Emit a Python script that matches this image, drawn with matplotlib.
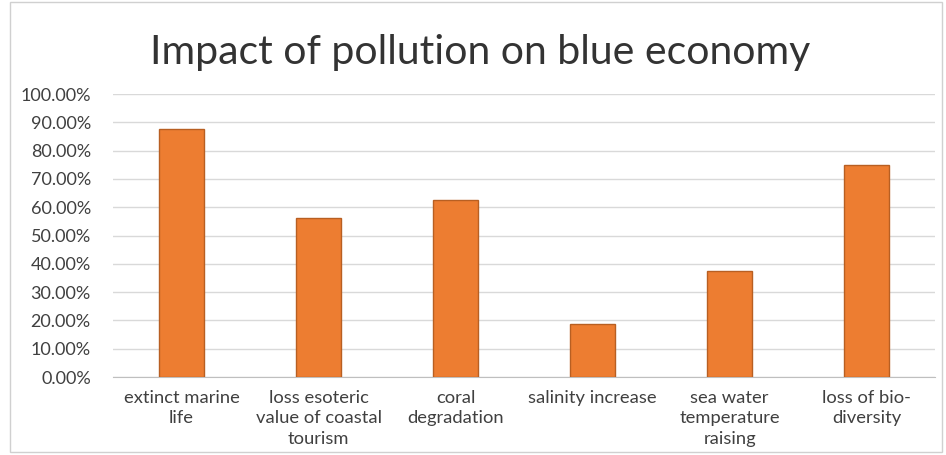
import matplotlib.pyplot as plt
from matplotlib.ticker import FuncFormatter, MultipleLocator
from matplotlib.patches import Rectangle

# data
categories = ['extinct marine\nlife', 'loss esoteric\nvalue of coastal\ntourism', 'coral\ndegradation',
              'salinity increase', 'sea water\ntemperature\nraising', 'loss of bio-\ndiversity']
values = [0.875, 0.5625, 0.625, 0.1875, 0.375, 0.75]

plt.rcParams['font.family'] = ['Lato', 'DejaVu Sans']

fig = plt.figure(figsize=(9.46, 4.55), dpi=100)
ax = fig.add_axes([0.1195, 0.1714, 0.869, 0.622])

x = range(len(categories))
ax.bar(x, values, width=0.33, color='#ED7D31', edgecolor='#B85F22', linewidth=1, zorder=3)

ax.set_xlim(-0.5, len(categories) - 0.5)
ax.set_ylim(0, 1.0)
ax.yaxis.set_major_locator(MultipleLocator(0.1))
ax.yaxis.set_major_formatter(FuncFormatter(lambda v, p: '{:.2f}%'.format(v * 100)))
ax.grid(axis='y', color='#D9D9D9', linewidth=1, zorder=0)
ax.set_xticks(list(x))
ax.set_xticklabels(categories, fontsize=13.2, color='#404040', linespacing=1.35)
ax.tick_params(axis='y', labelsize=13, labelcolor='#404040', length=0, pad=16)
ax.tick_params(axis='x', length=0, pad=9)
for s in ['top', 'right', 'left']:
    ax.spines[s].set_visible(False)
ax.spines['bottom'].set_color('#BFBFBF')

fig.text(0.508, 0.885, 'Impact of pollution on blue economy', ha='center', va='center',
         fontsize=29.5, color='#333333')

# chart border
fig.patches.append(Rectangle((0.011, 0.006), 0.985, 0.99, transform=fig.transFigure,
                             fill=False, edgecolor='#D0D0D0', linewidth=1))

fig.savefig('out.png', dpi=100)
